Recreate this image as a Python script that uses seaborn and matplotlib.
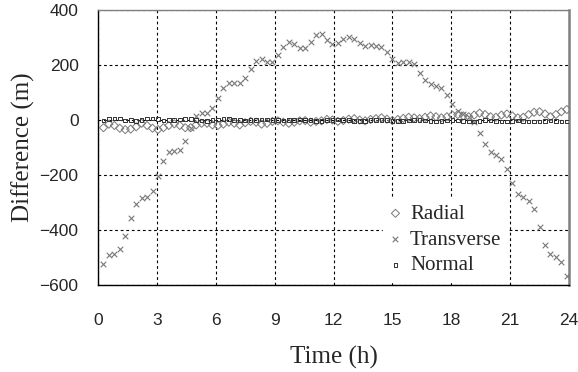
import numpy as np
import pandas as pd
import matplotlib
matplotlib.use("Agg")
import matplotlib.pyplot as plt
import seaborn as sns

# time samples every 1000 s, in hours
step_index = list(range(1, 87))
time_h = [k * 1000 / 3600 for k in step_index]

transverse = [-522, -492, -486, -470, -421, -356, -305, -282, -279, -259,
              -205, -149, -115, -113, -109, -75, -28, 16, 24, 24,
              43, 79, 115, 136, 136, 136, 152, 185, 213, 221,
              212, 212, 236, 267, 282, 275, 261, 263, 283, 308,
              311, 291, 277, 280, 293, 303, 295, 279, 270, 271,
              270, 267, 248, 221, 208, 211, 212, 204, 172, 145,
              130, 125, 115, 91, 57, 33, 21, 12, -8, -46,
              -88, -115, -127, -143, -179, -228, -270, -281, -293, -325,
              -390, -455, -487, -497, -517, -566]

radial = [-28, -15, -20, -30, -35, -33, -25, -12, -20, -30,
          -35, -28, -20, -14, -20, -28, -28, -18, -12, -12,
          -18, -20, -15, -8, -12, -18, -10, -5, -8, -15,
          -12, -5, -3, -8, -12, -8, -3, -2, -8, -5,
          -3, 2, 0, -5, -2, 3, 5, 0, -3, 2,
          5, 8, 3, -2, 2, 6, 10, 8, 5, 10,
          15, 12, 8, 12, 18, 20, 15, 12, 18, 25,
          20, 12, 10, 18, 22, 15, 8, 10, 20, 28,
          30, 22, 12, 20, 30, 38]

normal = [-2, 3, 6, 5, -2, 0, -3, 0, 5, 6,
          4, -2, -1, 0, 2, 4, 3, 0, -2, -3,
          -1, 2, 3, 3, 1, -1, -2, -1, 1, 2,
          2, 0, -1, -2, -1, 0, 2, 1, -1, -3,
          -3, -1, 1, 2, 1, -1, -3, -4, -3, -1,
          1, 1, -1, -3, -4, -4, -2, 0, 0, -2,
          -4, -5, -4, -2, -1, -2, -4, -5, -5, -3,
          -1, -2, -4, -6, -5, -3, -2, -3, -5, -6,
          -5, -3, -2, -4, -5, -6]

x_ticks = [0, 3, 6, 9, 12, 15, 18, 21, 24]
y_ticks = [-600, -400, -200, 0, 200, 400]

sns.set_style("white")

fig = plt.figure(figsize=(5.78, 3.72), dpi=100)
ax = fig.add_axes([98 / 578, 1 - 285 / 372, (569 - 98) / 578, (285 - 10) / 372])

sns.scatterplot(x=time_h, y=radial, ax=ax, marker="D", s=17,
                facecolor="none", edgecolor="#7a7a7a", linewidth=0.7,
                label="Radial", zorder=3)
sns.scatterplot(x=time_h, y=transverse, ax=ax, marker="x", s=16,
                color="#777777", linewidth=0.8, label="Transverse", zorder=3)
sns.scatterplot(x=time_h, y=normal, ax=ax, marker="s", s=7,
                facecolor="none", edgecolor="#333333", linewidth=0.7,
                label="Normal", zorder=3)

ax.set_xlim(0, 24)
ax.set_ylim(-600, 400)
ax.set_xticks(x_ticks)
ax.set_yticks(y_ticks)

ax.grid(True, color="black", linestyle=(0, (2.5, 2.5)), linewidth=0.8)
ax.set_axisbelow(True)

for side in ["left", "bottom"]:
    ax.spines[side].set_color("black")
    ax.spines[side].set_linewidth(1.0)
ax.spines["top"].set_color("#808080")
ax.spines["top"].set_linewidth(1.0)
ax.spines["right"].set_color("#808080")
ax.spines["right"].set_linewidth(1.8)

ax.tick_params(axis="both", length=0, labelsize=12.5)
ax.tick_params(axis="x", pad=20)
ax.tick_params(axis="y", pad=14)
for lab in ax.get_xticklabels() + ax.get_yticklabels():
    lab.set_fontfamily("Liberation Sans")

ax.set_xlabel("Time (h)", fontfamily="Liberation Serif", fontsize=18, labelpad=13)
ax.set_ylabel("Difference (m)", fontfamily="Liberation Serif", fontsize=18, labelpad=3)

leg = ax.legend(loc="lower left", bbox_to_anchor=(0.605, 0.012), frameon=True,
                fancybox=False, edgecolor="white", facecolor="white", framealpha=1,
                prop={"family": "Liberation Serif", "size": 15},
                handlelength=0.6, handletextpad=0.4, labelspacing=0.3,
                borderpad=0.3, borderaxespad=0, markerscale=1.0)

fig.savefig("out.png", dpi=100)
